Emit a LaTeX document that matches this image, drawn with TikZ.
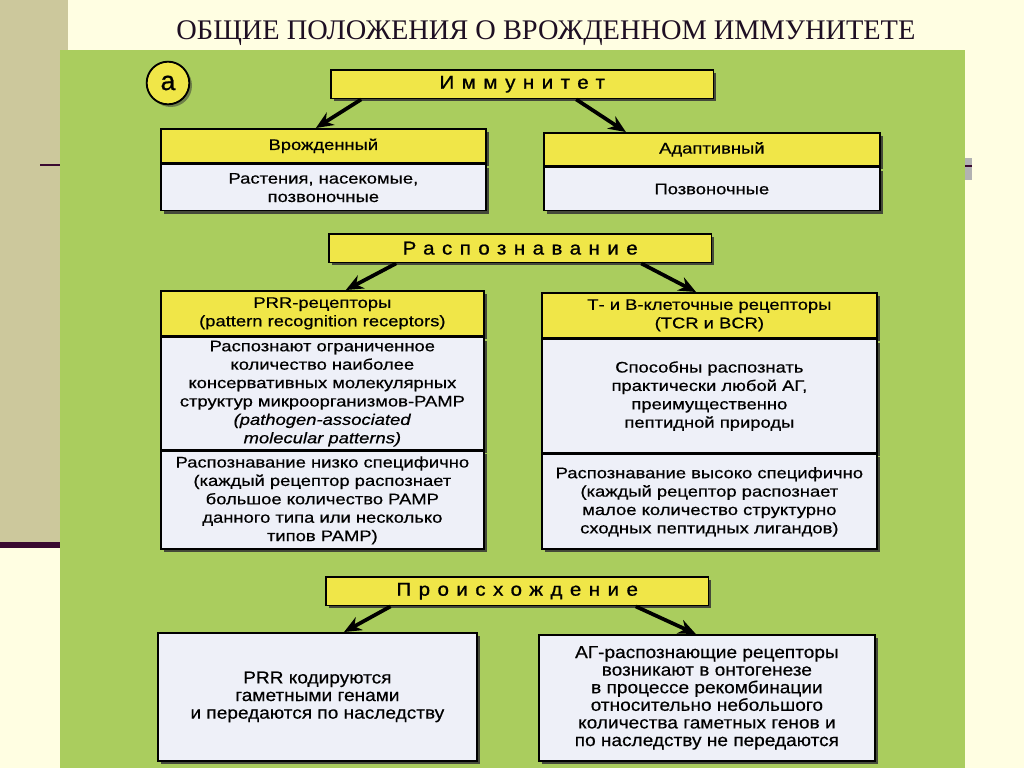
\documentclass[tikz,border=0pt]{standalone}
\usepackage{fontspec}
\setmainfont{Liberation Serif}
\setsansfont{Liberation Sans}
\newfontfamily\boxsf[FakeStretch=1.2,FakeBold=0.5]{Liberation Sans}
\newfontfamily\spacedsf[LetterSpace=40,FakeStretch=1.1,FakeBold=0.9]{Liberation Sans}
\usetikzlibrary{positioning,arrows.meta,shadows}
\definecolor{slidebg}{RGB}{255,254,226}
\definecolor{stripkhaki}{RGB}{204,200,156}
\definecolor{rulemaroon}{RGB}{58,10,48}
\definecolor{panelgreen}{RGB}{170,205,94}
\definecolor{hdyellow}{RGB}{240,230,72}
\definecolor{bodywhite}{RGB}{238,240,248}
\definecolor{titleink}{RGB}{30,15,35}

\begin{document}
\begin{tikzpicture}[x=0.75pt,y=-0.75pt,>={Stealth[length=13pt,width=11pt]},
  part/.style={draw,line width=1.3pt,align=center,inner xsep=3pt,inner ysep=0pt,
    font=\boxsf\fontsize{11.5}{13.8}\selectfont,
    drop shadow={shadow xshift=2.2pt,shadow yshift=-2.2pt,fill=black!80,opacity=.85}},
  head/.style={part,fill=hdyellow},
  body/.style={part,fill=bodywhite},
  tallbody/.style={body,font=\sffamily\fontsize{13}{13.2}\selectfont\addfontfeature{FakeStretch=1.1,FakeBold=0.4}},
  topic/.style={part,fill=hdyellow,minimum width=287pt,minimum height=21.5pt,
    font=\spacedsf\fontsize{14}{15}\selectfont},
  link/.style={->,line width=2.8pt}]
\useasboundingbox (0,0) rectangle (1024,768);
\fill[slidebg] (0,0) rectangle (1024,768);
\fill[stripkhaki] (0,0) rectangle (68,545);
\fill[rulemaroon] (0,542) rectangle (62,548);
\draw[line width=2pt,rulemaroon] (40,165) -- (62,165);
\fill[black!30] (963,158) rectangle (972,180);
\draw[line width=2pt,rulemaroon] (965,166) -- (972,166);
\fill[panelgreen] (60,50) rectangle (965,768);

\node[font=\fontsize{21.3}{24}\selectfont,text=titleink] (title) at (546,33) {ОБЩИЕ ПОЛОЖЕНИЯ О ВРОЖДЕННОМ ИММУНИТЕТЕ};
\node[circle,draw,line width=1.4pt,fill=hdyellow,minimum size=32pt,inner sep=0pt,
  font=\sffamily\fontsize{20}{20}\selectfont\addfontfeature{FakeBold=0.8},
  drop shadow={shadow xshift=2pt,shadow yshift=-2pt,fill=black!80}] (tag) at (168,83) {а};

\node[topic,anchor=north west] (imm) at (330,69) {Иммунитет};
\node[head,anchor=north west,minimum width=243.75pt,minimum height=25.5pt] (innate) at (160,128) {Врожденный};
\node[body,below=0pt of innate,minimum width=243.75pt,minimum height=34.5pt] (innateB) {Растения, насекомые,\\позвоночные};
\node[head,anchor=north west,minimum width=252pt,minimum height=24.75pt] (adapt) at (543,132) {Адаптивный};
\node[body,below=0pt of adapt,minimum width=252pt,minimum height=32.25pt] (adaptB) {Позвоночные};
\draw[link] ([xshift=-120.75pt]imm.south) -- ([xshift=-5.6pt]innate.north);
\draw[link] ([xshift=40.5pt]imm.south) -- ([xshift=-64.5pt]adapt.north);

\node[topic,anchor=north west] (recog) at (328,233) {Распознавание};
\node[head,anchor=north west,minimum width=242.25pt,minimum height=33.75pt] (prr) at (160,290) {PRR-рецепторы\\(pattern recognition receptors)};
\node[body,below=0pt of prr,minimum width=242.25pt,minimum height=84pt] (prrB) {Распознают ограниченное\\количество наиболее\\консервативных молекулярных\\структур микроорганизмов-PAMP\\\textit{(pathogen-associated}\\\textit{molecular patterns)}};
\node[body,below=0pt of prrB,minimum width=242.25pt,minimum height=73.5pt] (prrC) {Распознавание низко специфично\\(каждый рецептор распознает\\большое количество PAMP\\данного типа или несколько\\типов PAMP)};
\node[head,anchor=north west,minimum width=251.25pt,minimum height=33.75pt] (tbr) at (541,292) {Т- и В-клеточные рецепторы\\(TCR и BCR)};
\node[body,below=0pt of tbr,minimum width=251.25pt,minimum height=84.75pt] (tbrB) {Способны распознать\\практически любой АГ,\\преимущественно\\пептидной природы};
\node[body,below=0pt of tbrB,minimum width=251.25pt,minimum height=71.25pt] (tbrC) {Распознавание высоко специфично\\(каждый рецептор распознает\\малое количество структурно\\сходных пептидных лигандов)};
\draw[link] ([xshift=-93pt]recog.south) -- ([xshift=17.6pt]prr.north);
\draw[link] ([xshift=90.75pt]recog.south) -- ([xshift=-10pt]tbr.north);

\node[topic,anchor=north west] (orig) at (325,576) {Происхождение};
\node[tallbody,anchor=north west,minimum width=239.25pt,minimum height=96pt] (germ) at (157,632) {PRR кодируются\\гаметными генами\\и передаются по наследству};
\node[tallbody,anchor=north west,minimum width=252pt,minimum height=94.5pt] (somat) at (538,634) {АГ-распознающие рецепторы\\возникают в онтогенезе\\в процессе рекомбинации\\относительно небольшого\\количества гаметных генов и\\по наследству не передаются};
\draw[link] ([xshift=-95pt]orig.south) -- ([xshift=20pt]germ.north);
\draw[link] ([xshift=88.9pt]orig.south) -- ([xshift=-8.25pt]somat.north);
\end{tikzpicture}
\end{document}
